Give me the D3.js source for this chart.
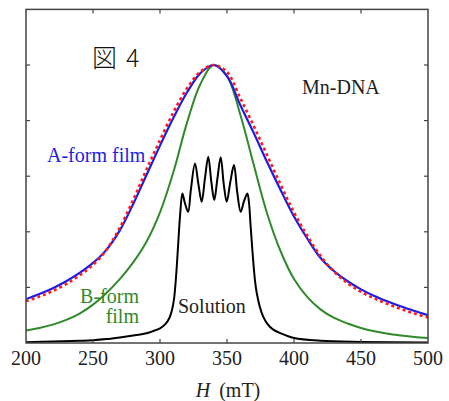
<!DOCTYPE html>
<html lang="ja">
<head>
  <meta charset="utf-8">
  <title>Mn-DNA ESR spectra</title>
  <script src="https://d3js.org/d3.v7.min.js"></script>
  <style>
    body { margin: 0; background: #fff; }
  </style>
</head>
<body>
  <div id="chart"></div>

  <script>
    // field values (mT) used for the broad curves
    var fieldH = [200, 210, 220, 230, 240, 250, 260, 270, 280, 290, 300, 310, 320, 330, 340,
                  350, 360, 370, 380, 390, 400, 410, 420, 430, 440, 450, 460, 470, 480, 490, 500];

    var aFilm = [0.158, 0.176, 0.197, 0.222, 0.252, 0.288, 0.335, 0.405, 0.50, 0.605, 0.71, 0.81, 0.90, 0.97, 1.0,
                 0.96, 0.855, 0.755, 0.65, 0.55, 0.455, 0.375, 0.305, 0.258, 0.222, 0.193, 0.169, 0.149, 0.131, 0.115, 0.10];

    var aFit = [0.15, 0.167, 0.187, 0.212, 0.243, 0.281, 0.335, 0.415, 0.515, 0.625, 0.73, 0.83, 0.915, 0.975, 1.0,
                0.975, 0.88, 0.78, 0.675, 0.57, 0.47, 0.385, 0.312, 0.256, 0.215, 0.184, 0.16, 0.14, 0.122, 0.106, 0.092];

    var bFilm = [0.045, 0.054, 0.066, 0.083, 0.106, 0.138, 0.18, 0.23, 0.29, 0.365, 0.47, 0.615, 0.79, 0.93, 1.0,
                 0.96, 0.82, 0.64, 0.465, 0.33, 0.23, 0.165, 0.12, 0.09, 0.07, 0.054, 0.042, 0.033, 0.027, 0.022, 0.018];

    // solution spectrum (six-line hyperfine structure)
    var solH = [200, 220, 240, 250, 260, 270, 280, 290, 295, 300, 304, 307, 309, 310.5, 312, 313.5, 315, 316.7,
                318.5, 321, 323, 326.1, 328.7, 331.1, 333.5, 336, 338.3, 340.5, 342.8, 345.3, 347.6, 349.8,
                352.5, 355.2, 357.7, 360.2, 362.7, 365.2, 366.5, 367.5, 369, 370, 371, 372.2, 374.5, 377,
                380, 384, 390, 400, 420, 450, 500];
    var solution = [0.003, 0.005, 0.008, 0.01, 0.014, 0.02, 0.027, 0.035, 0.043, 0.053, 0.068, 0.09, 0.12, 0.16, 0.24, 0.35, 0.46, 0.538,
                    0.505, 0.472, 0.55, 0.646, 0.57, 0.508, 0.59, 0.67, 0.58, 0.514, 0.59, 0.668, 0.57, 0.508,
                    0.58, 0.64, 0.54, 0.472, 0.51, 0.538, 0.5, 0.43, 0.33, 0.27, 0.22, 0.18, 0.13, 0.095,
                    0.07, 0.05, 0.035, 0.018, 0.008, 0.004, 0.002];

    var xTicks = [200, 250, 300, 350, 400, 450, 500];
    var yTicks = [0.2, 0.4, 0.6, 0.8, 1.0];

    var width = 449, height = 401;
    var margin = { top: 10, right: 21, bottom: 58, left: 26 };
    var serif = "'Liberation Serif', 'DejaVu Serif', 'Times New Roman', serif";

    var svg = d3.select("#chart").append("svg")
      .attr("width", width)
      .attr("height", height)
      .attr("font-family", serif);

    var x = d3.scaleLinear().domain([200, 500]).range([margin.left, width - margin.right]);
    var y = d3.scaleLinear().domain([0, 1.2]).range([height - margin.bottom, 343 - 1.2 * 278]);

    var x0 = x.range()[0], x1 = x.range()[1];
    var y0 = y.range()[0], y1 = y.range()[1];

    // clip curves to the plot box
    svg.append("clipPath").attr("id", "clip")
      .append("rect").attr("x", x0).attr("y", y1).attr("width", x1 - x0).attr("height", y0 - y1);

    var line = d3.line()
      .x(function (d) { return x(d[0]); })
      .y(function (d) { return y(d[1]); })
      .curve(d3.curveCatmullRom.alpha(0.5));

    function pairs(xs, ys) {
      return xs.map(function (v, i) { return [v, ys[i]]; });
    }

    var plot = svg.append("g").attr("clip-path", "url(#clip)");

    plot.append("path").datum(pairs(fieldH, bFilm))
      .attr("d", line).attr("fill", "none")
      .attr("stroke", "#2f8a2a").attr("stroke-width", 2);

    plot.append("path").datum(pairs(solH, solution))
      .attr("d", line).attr("fill", "none")
      .attr("stroke", "#000").attr("stroke-width", 2);

    plot.append("path").datum(pairs(fieldH, aFilm))
      .attr("d", line).attr("fill", "none")
      .attr("stroke", "#1d1de6").attr("stroke-width", 2.2);

    plot.append("path").datum(pairs(fieldH, aFit))
      .attr("d", line).attr("fill", "none")
      .attr("stroke", "#ff1a1a").attr("stroke-width", 2.6)
      .attr("stroke-dasharray", "3,3");

    // frame and inward ticks on all four sides
    var frame = svg.append("g").attr("stroke", "#444").attr("fill", "none");
    frame.append("rect")
      .attr("x", x0).attr("y", y1)
      .attr("width", x1 - x0).attr("height", y0 - y1)
      .attr("stroke-width", 1.5);

    var tickLen = 4;
    xTicks.slice(1, -1).forEach(function (t) {
      frame.append("line").attr("x1", x(t)).attr("x2", x(t)).attr("y1", y0).attr("y2", y0 - tickLen).attr("stroke-width", 1.2);
      frame.append("line").attr("x1", x(t)).attr("x2", x(t)).attr("y1", y1).attr("y2", y1 + tickLen).attr("stroke-width", 1.2);
    });
    yTicks.forEach(function (t) {
      frame.append("line").attr("x1", x0).attr("x2", x0 + tickLen).attr("y1", y(t)).attr("y2", y(t)).attr("stroke-width", 1.2);
      frame.append("line").attr("x1", x1).attr("x2", x1 - tickLen).attr("y1", y(t)).attr("y2", y(t)).attr("stroke-width", 1.2);
    });

    svg.append("g").selectAll("text").data(xTicks).enter().append("text")
      .attr("x", function (d) { return x(d); })
      .attr("y", 365)
      .attr("text-anchor", "middle")
      .attr("font-size", 20)
      .attr("fill", "#222")
      .text(function (d) { return d; });

    var xl = svg.append("text")
      .attr("x", 228).attr("y", 397)
      .attr("text-anchor", "middle")
      .attr("font-size", 20)
      .attr("fill", "#222");
    xl.append("tspan").attr("font-style", "italic").text("H");
    xl.append("tspan").attr("dx", 9).text("(mT)");

    // annotations
    var fig = svg.append("text")
      .attr("x", 92).attr("y", 67)
      .attr("font-size", 25)
      .attr("fill", "#111")
      .attr("font-family", "'Noto Sans CJK JP', sans-serif")
      .attr("font-weight", 300);
    fig.append("tspan").text("図");
    fig.append("tspan").attr("x", 126).text("4");

    svg.append("text").attr("x", 302).attr("y", 94)
      .attr("font-size", 20).attr("fill", "#222").text("Mn-DNA");

    svg.append("text").attr("x", 47).attr("y", 162)
      .attr("font-size", 20).attr("fill", "#1d1de6").text("A-form film");

    svg.append("text").attr("x", 139).attr("y", 303)
      .attr("text-anchor", "end")
      .attr("font-size", 20).attr("fill", "#2f8a2a").text("B-form");
    svg.append("text").attr("x", 139).attr("y", 323)
      .attr("text-anchor", "end")
      .attr("font-size", 20).attr("fill", "#2f8a2a").text("film");

    svg.append("text").attr("x", 178).attr("y", 313)
      .attr("font-size", 20).attr("fill", "#222").text("Solution");
  </script>
</body>
</html>
